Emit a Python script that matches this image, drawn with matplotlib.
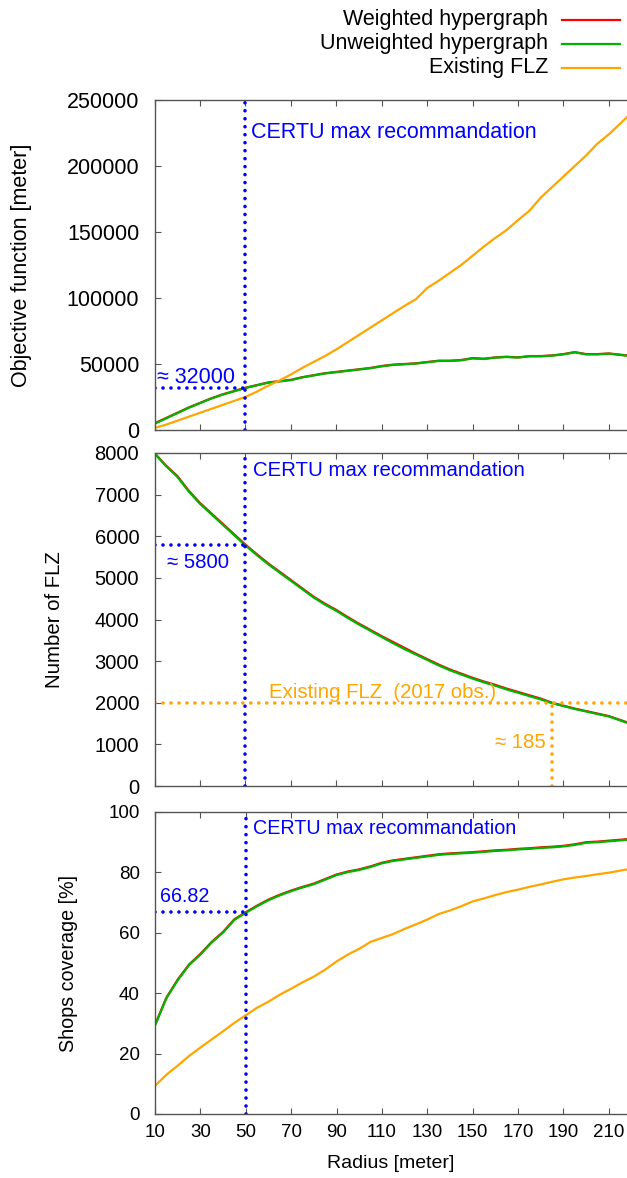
import matplotlib
matplotlib.use('Agg')
import matplotlib.pyplot as plt
from matplotlib.lines import Line2D
import numpy as np

plt.rcParams['font.family'] = ['Liberation Sans', 'DejaVu Sans']

# radius samples (meter)
radius = [10, 15, 20, 25, 30, 35, 40, 45, 50, 55, 60, 65, 70, 75, 80, 85, 90, 95, 100,
          105, 110, 115, 120, 125, 130, 135, 140, 145, 150, 155, 160, 165, 170, 175,
          180, 185, 190, 195, 200, 205, 210, 218]

# objective function [meter]
obj_weighted = [5000, 9000, 13000, 17000, 20500, 24000, 27000, 29500, 32000, 34000,
                36000, 37000, 38000, 40000, 41500, 43000, 44000, 45000, 46000, 47000,
                48500, 49500, 50000, 50500, 51500, 52500, 52500, 53000, 54500, 54000,
                55000, 55500, 55000, 56000, 56000, 56500, 57500, 59000, 57500, 57500,
                58000, 56500]
obj_unweighted = [4700, 8700, 12700, 16800, 20300, 23800, 26800, 29300, 31800, 33800,
                  35800, 36800, 37800, 39800, 41300, 42800, 43800, 44800, 45800, 46800,
                  48200, 49300, 49800, 50300, 51300, 52300, 52300, 52800, 54200, 53800,
                  54800, 55300, 54900, 55800, 55800, 56300, 57300, 58800, 57300, 57300,
                  57800, 56300]
obj_existing = [1500, 4000, 7000, 10000, 13000, 16000, 19000, 22000, 25000, 29000,
                33500, 37500, 42000, 47000, 51500, 56000, 61000, 66500, 72000, 77500,
                83000, 88500, 94000, 99000, 107500, 113000, 119000, 125000, 132000,
                139000, 145500, 151500, 159000, 166000, 176000, 184000, 192000, 200000,
                208000, 217000, 224000, 237000]

# number of FLZ
nb_weighted = [8000, 7700, 7450, 7100, 6800, 6550, 6300, 6050, 5800, 5570, 5350, 5150,
               4950, 4750, 4550, 4380, 4230, 4060, 3900, 3750, 3600, 3460, 3320, 3180,
               3050, 2920, 2800, 2700, 2600, 2510, 2430, 2340, 2260, 2180, 2100, 2000,
               1930, 1860, 1800, 1740, 1680, 1530]
nb_unweighted = [7990, 7690, 7430, 7080, 6780, 6530, 6280, 6030, 5780, 5550, 5330, 5130,
                 4930, 4730, 4530, 4360, 4210, 4040, 3880, 3730, 3580, 3430, 3290, 3160,
                 3030, 2900, 2780, 2680, 2580, 2490, 2410, 2320, 2240, 2160, 2080, 1990,
                 1920, 1850, 1790, 1730, 1670, 1520]
nb_existing_flz = 2000
nb_cross_radius = 185

# shops coverage [%]
cov_weighted = [29.5, 38.5, 44.5, 49.5, 53, 57, 60.3, 64.5, 66.82, 69, 71, 72.6, 74,
                75.2, 76.3, 77.8, 79.3, 80.3, 81, 82, 83.2, 84, 84.5, 85, 85.5, 86,
                86.3, 86.5, 86.7, 87, 87.3, 87.5, 87.8, 88, 88.3, 88.5, 88.8, 89.3, 90,
                90.2, 90.5, 91]
cov_unweighted = [29.3, 38.3, 44.3, 49.3, 52.8, 56.8, 60.1, 64.3, 66.6, 68.8, 70.8, 72.4,
                  73.8, 75.0, 76.1, 77.6, 79.1, 80.1, 80.8, 81.8, 83.0, 83.8, 84.3, 84.8,
                  85.3, 85.8, 86.1, 86.3, 86.5, 86.8, 87.1, 87.3, 87.6, 87.8, 88.1, 88.3,
                  88.6, 89.1, 89.8, 90.0, 90.3, 90.8]
cov_existing = [9.3, 13, 16, 19.2, 22, 24.7, 27.4, 30.2, 32.7, 35.2, 37.2, 39.5, 41.5,
                43.6, 45.5, 47.8, 50.5, 52.8, 54.7, 57, 58.3, 59.6, 61.3, 62.8, 64.4,
                66.2, 67.4, 68.8, 70.4, 71.4, 72.5, 73.5, 74.3, 75.2, 76, 76.9, 77.7,
                78.3, 78.8, 79.4, 79.9, 81]

certu_radius = 50
xticks = list(range(10, 211, 20))

RED = '#ff0000'
GREEN = '#00b400'
ORANGE = '#ffa500'
BLUE = '#0000ff'
SPINE = '#555555'

W, H = 627, 1178
fig = plt.figure(figsize=(W / 100, H / 100), dpi=100)


def px_axes(left, top, bottom, right=W):
    return fig.add_axes([left / W, 1 - bottom / H, (right - left) / W, (bottom - top) / H])


def style(ax, fs, show_x):
    ax.set_xlim(10, 218)
    ax.set_xticks(xticks)
    ax.tick_params(direction='in', length=4, color=SPINE, top=True, right=False,
                   labelsize=fs)
    ax.tick_params(axis='y', pad=11)
    ax.tick_params(axis='x', pad=7)
    if not show_x:
        ax.tick_params(labelbottom=False)
    for s in ax.spines.values():
        s.set_color(SPINE)
        s.set_linewidth(1.0)
    ax.spines['right'].set_visible(False)


dot = dict(linestyle=(0, (0.01, 2.2)), linewidth=2.6, dash_capstyle='round')

# --- top panel
ax1 = px_axes(154.5, 100, 430)
ax1.plot(radius, obj_weighted, color=RED, lw=1.6)
ax1.plot(radius, obj_unweighted, color=GREEN, lw=1.6)
ax1.plot(radius, obj_existing, color=ORANGE, lw=1.6)
ax1.set_ylim(0, 250000)
ax1.set_yticks(range(0, 250001, 50000))
style(ax1, 15.5, False)
ax1.axvline(certu_radius, color=BLUE, **dot)
ax1.plot([10, certu_radius], [32000, 32000], color=BLUE, **dot)
ax1.text(52.6, 225000, 'CERTU max recommandation', color=BLUE, fontsize=15.5, va='center')
ax1.text(10.9, 40000, '≈ 32000', color=BLUE, fontsize=15.5, va='center')
fig.text(22 / W, 1 - 265 / H, 'Objective function [meter]', rotation=90,
         fontsize=15.5, ha='center', va='center')

# --- middle panel
ax2 = px_axes(154.5, 453, 786)
ax2.plot(radius, nb_weighted, color=RED, lw=1.6)
ax2.plot(radius, nb_unweighted, color=GREEN, lw=1.6)
ax2.set_ylim(0, 8000)
ax2.set_yticks(range(0, 8001, 1000))
style(ax2, 14.5, False)
ax2.axvline(certu_radius, color=BLUE, **dot)
ax2.plot([10, certu_radius], [5800, 5800], color=BLUE, **dot)
ax2.axhline(nb_existing_flz, color=ORANGE, **dot)
ax2.plot([nb_cross_radius, nb_cross_radius], [0, nb_existing_flz], color=ORANGE, **dot)
ax2.text(53.5, 7590, 'CERTU max recommandation', color=BLUE, fontsize=14.7, va='center')
ax2.text(15.3, 5380, '≈ 5800', color=BLUE, fontsize=14.7, va='center')
ax2.text(60.5, 2235, 'Existing FLZ  (2017 obs.)', color=ORANGE, fontsize=14.7, va='center')
ax2.text(182.3, 1057, '≈ 185', color=ORANGE, fontsize=14.7, va='center', ha='right')
fig.text(55 / W, 1 - 620 / H, 'Number of FLZ', rotation=90,
         fontsize=14.7, ha='center', va='center')

# --- bottom panel
ax3 = px_axes(155, 812, 1114)
ax3.plot(radius, cov_weighted, color=RED, lw=1.6)
ax3.plot(radius, cov_unweighted, color=GREEN, lw=1.6)
ax3.plot(radius, cov_existing, color=ORANGE, lw=1.6)
ax3.set_ylim(0, 100)
ax3.set_yticks(range(0, 101, 20))
style(ax3, 13.5, True)
ax3.axvline(certu_radius, color=BLUE, **dot)
ax3.plot([10, certu_radius], [66.82, 66.82], color=BLUE, **dot)
ax3.text(53, 94.7, 'CERTU max recommandation', color=BLUE, fontsize=14.2, va='center')
ax3.text(12.2, 71.9, '66.82', color=BLUE, fontsize=14.2, va='center')
ax3.set_xlabel('Radius [meter]', fontsize=14, labelpad=10)
fig.text(68 / W, 1 - 963 / H, 'Shops coverage [%]', rotation=90,
         fontsize=14.2, ha='center', va='center')

# --- legend (top right)
labels = ['Weighted hypergraph', 'Unweighted hypergraph', 'Existing FLZ']
colors = [RED, GREEN, ORANGE]
rows = [20, 44, 68]
for lab, col, ry in zip(labels, colors, rows):
    fig.text(548 / W, 1 - ry / H, lab, fontsize=15.5, ha='right', va='center')
    fig.add_artist(Line2D([562 / W, 620 / W], [1 - ry / H, 1 - ry / H],
                          color=col, lw=1.6, transform=fig.transFigure))

fig.savefig('out.png', dpi=100)
